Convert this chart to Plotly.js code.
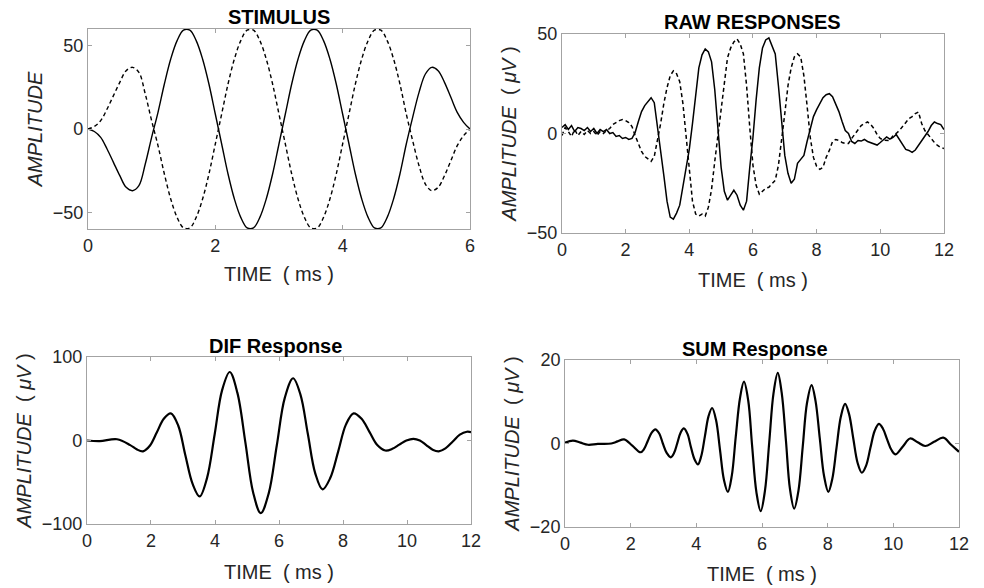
<!DOCTYPE html>
<html>
<head>
<meta charset="utf-8">
<script src="https://cdn.plot.ly/plotly-3.0.1.min.js"></script>
<style>
html,body{margin:0;padding:0;background:#fff;}
#chart{width:984px;height:588px;}
</style>
</head>
<body>
<div id="chart"></div>
<script>
// ---------- DATA ----------
const stimTime = [0,0.1,0.2,0.3,0.4,0.5,0.6,0.7,0.8,0.9,1.0,1.1,1.2,1.3,1.4,1.5,1.6,1.7,1.8,1.9,2.0,2.1,2.2,2.3,2.4,2.5,2.6,2.7,2.8,2.9,3.0,3.1,3.2,3.3,3.4,3.5,3.6,3.7,3.8,3.9,4.0,4.1,4.2,4.3,4.4,4.5,4.6,4.7,4.8,4.9,5.0,5.1,5.2,5.3,5.4,5.5,5.6,5.7,5.8,5.9,6.0];
const stimSolid = [0,-1.5,-5,-12,-20,-28,-35,-37,-34,-21,-5,10,27,42,53,59.3,59.3,53,42,27,9,-9,-27,-42,-53,-59.3,-59.3,-53,-42,-27,-9,9,27,42,53,59.3,59.3,53,42,27,9,-9,-27,-42,-53,-59.3,-59.3,-53,-42,-27,-9,7,22,33,37,35,28,19,10,4,0];
const stimDashed = [0,1.5,5,12,20,28,35,37,34,21,5,-10,-27,-42,-53,-59.3,-59.3,-53,-42,-27,-9,9,27,42,53,59.3,59.3,53,42,27,9,-9,-27,-42,-53,-59.3,-59.3,-53,-42,-27,-9,9,27,42,53,59.3,59.3,53,42,27,9,-7,-22,-33,-37,-35,-28,-19,-10,-4,0];

const rawTime = [0,0.1,0.2,0.3,0.4,0.5,0.6,0.7,0.8,0.9,1.0,1.1,1.2,1.3,1.4,1.5,1.6,1.7,1.8,1.9,2.0,2.1,2.2,2.3,2.4,2.5,2.6,2.7,2.8,2.9,3.0,3.1,3.2,3.3,3.4,3.5,3.6,3.7,3.8,3.9,4.0,4.1,4.2,4.3,4.4,4.5,4.6,4.7,4.8,4.9,5.0,5.1,5.2,5.3,5.4,5.5,5.6,5.7,5.8,5.9,6.0,6.1,6.2,6.3,6.4,6.5,6.6,6.7,6.8,6.9,7.0,7.1,7.2,7.3,7.4,7.5,7.6,7.7,7.8,7.9,8.0,8.1,8.2,8.3,8.4,8.5,8.6,8.7,8.8,8.9,9.0,9.1,9.2,9.3,9.4,9.5,9.6,9.7,9.8,9.9,10.0,10.1,10.2,10.3,10.4,10.5,10.6,10.7,10.8,10.9,11.0,11.1,11.2,11.3,11.4,11.5,11.6,11.7,11.8,11.9,12.0];
const rawSolid = [3,4.5,2,4,1,3,2.5,1.5,3,1,2.5,0,2,1,2,0,0.5,-1.5,-1,-2.5,-2,-3,-2.5,0.5,6,11,14,16,18,15.5,4,-8,-21,-34,-42,-43,-40,-36,-27,-18,-8,5,20,33,39.5,42.5,41,36,22,3,-17,-29,-33.5,-31,-28.5,-31,-36,-38.5,-34,-17,-2,17,33,43,47,48,44,40,24,5,-11,-20,-25,-23,-15,-13,-11,-4,3,8.5,12,15,18,19.5,20,18.5,15,11,6,1.5,0,-4,-5,-3.5,-3.8,-3,-4,-4.5,-5,-5.8,-4.5,-3.3,-1.7,-2.8,-2,-0.5,-3,-6,-8,-8.5,-9.5,-8.3,-6,-3.5,-1.5,1,4,5.8,5,4.5,2];
const rawDashed = [-1,3,1,-1.5,2,-1,1,-0.5,1.5,0,1,-1,1,0,1.5,2.5,4.5,5.5,6.5,7,6.5,5.5,3.5,-1,-5,-9,-11.5,-13,-14,-11.5,-4,5,15,23,29,31.5,30,26,15,-2,-21,-34,-40.5,-41.5,-40.5,-41.5,-37,-28,-14,-1,14,28,38,43,46,47.5,45,40,24,3,-16,-26,-30.5,-29,-27.5,-27,-25.5,-23.5,-16,-4,10,24,33,38.5,40,38.5,29,14,-2,-12,-16.5,-18,-17,-12,-8.5,-4,-3,-3.5,-4.5,-5,-5,-2.5,-0.5,1.5,4,5,5.8,4.5,2.5,-0.5,-2.5,-3.3,-3.5,-3.5,-1,0,1.5,3.5,5.5,7.5,8.5,10,10.8,5,1.5,-0.5,-3,-4.5,-6,-7,-7.5];

const difTime = [0,0.4,0.94,1.35,1.55,1.75,1.97,2.18,2.4,2.62,2.85,3.07,3.3,3.52,3.75,3.99,4.22,4.46,4.7,4.95,5.19,5.43,5.68,5.93,6.18,6.44,6.67,6.9,7.13,7.36,7.6,7.85,8.09,8.33,8.58,8.83,9.07,9.32,9.54,9.76,9.98,10.2,10.4,10.6,10.8,10.99,11.2,11.43,11.65,11.87,12];
const difValue = [0,-0.8,1.5,-5.5,-10.5,-13,-6,9.5,26,32.5,18,-17,-52,-67,-45,7.5,60,82,57,-2.5,-62,-87,-63,-6,51,74.5,55,8,-39,-58.5,-45,-13,19,32.5,26,10,-5.5,-12,-10,-5,0,2,0,-5.5,-11,-13,-9.5,-1.2,7,10.5,10];

const sumTime = [0,0.24,0.47,0.7,1.0,1.41,1.6,1.8,2.05,2.3,2.41,2.52,2.64,2.75,2.87,2.98,3.1,3.22,3.32,3.42,3.52,3.62,3.73,3.83,3.94,4.05,4.15,4.26,4.37,4.48,4.6,4.72,4.84,4.96,5.08,5.2,5.33,5.45,5.58,5.7,5.83,5.96,6.09,6.22,6.35,6.48,6.6,6.73,6.85,6.98,7.11,7.24,7.37,7.51,7.63,7.76,7.89,8.02,8.14,8.27,8.4,8.53,8.65,8.78,8.91,9.04,9.17,9.3,9.43,9.56,9.68,9.81,9.94,10.07,10.29,10.51,10.74,10.97,11.24,11.52,11.76,12.0];
const sumValue = [0.2,0.7,0.2,-0.3,-0.1,0,0.5,1.0,-0.5,-2.1,-1.3,0.6,2.6,3.4,2.4,0,-2.3,-3.3,-2.3,0.1,2.6,3.6,2.3,-0.7,-3.7,-5.0,-3.0,1.7,6.5,8.5,5.6,-1.5,-8.7,-11.6,-7.7,1.6,10.9,14.8,10.3,-0.7,-11.7,-16.2,-11.3,0.3,12,16.9,12.1,0.6,-10.8,-15.6,-11.3,-0.8,9.7,14,10.2,1.2,-7.8,-11.6,-8.5,-1,6.4,9.5,7.1,1.2,-4.6,-7,-5.3,-1.1,3,4.7,3.6,1,-1.5,-2.6,-0.7,1.2,0.3,-0.6,0.4,1.4,-0.3,-2.0];

const titles = ["STIMULUS","RAW RESPONSES","DIF Response","SUM Response"];
const xTitle = "TIME\u00A0\u00A0( ms )";
const yTitles = ["<i>AMPLITUDE</i>","<i>AMPLITUDE</i>\u00A0\u00A0( <i>μV</i> )","<i>AMPLITUDE</i>\u00A0\u00A0( <i>μV</i> )","<i>AMPLITUDE</i>\u00A0\u00A0( <i>μV</i> )"];
const yTicks = [[-50,0,50],[-50,0,50],[-100,0,100],[-20,0,20]];
const yRanges = [[-60,60],[-50,50],[-100,100],[-20,20]];
const xRanges = [[0,6],[0,12],[0,12],[0,12]];

// ---------- PLOT ----------
const FONT = "Liberation Sans, Arial, Helvetica, sans-serif";
const solidLine = {color:'#000', width:1.4, shape:'spline', smoothing:1};
const dashLine = {color:'#000', width:1.4, dash:'4px,3px', shape:'spline', smoothing:1};
const thick = {color:'#000', width:2.2, shape:'spline', smoothing:1};

const traces = [
  {x:stimTime, y:stimSolid, xaxis:'x', yaxis:'y', mode:'lines', line:solidLine},
  {x:stimTime, y:stimDashed, xaxis:'x', yaxis:'y', mode:'lines', line:dashLine},
  {x:rawTime, y:rawSolid, xaxis:'x2', yaxis:'y2', mode:'lines', line:{color:'#000', width:1.5}},
  {x:rawTime, y:rawDashed, xaxis:'x2', yaxis:'y2', mode:'lines', line:{color:'#000', width:1.5, dash:'4px,3px'}},
  {x:difTime, y:difValue, xaxis:'x3', yaxis:'y3', mode:'lines', line:thick},
  {x:sumTime, y:sumValue, xaxis:'x4', yaxis:'y4', mode:'lines', line:thick}
];

const xDomains = [[0.0894,0.4776],[0.5711,0.9593],[0.0884,0.4787],[0.5742,0.9746]];
const yDomains = [[0.6105,0.9507],[0.6037,0.9422],[0.1088,0.3929],[0.1037,0.3878]];

function axisBase(){
  return {showline:true, linecolor:'#a3a3a3', linewidth:1, mirror:'ticks',
    ticks:'inside', ticklen:4, tickcolor:'#a3a3a3', tickwidth:1,
    showgrid:false, zeroline:false, automargin:false, fixedrange:true,
    tickfont:{family:FONT, size:18, color:'#262626'}};
}

const layout = {
  width:984, height:588, margin:{l:0,r:0,t:0,b:0},
  paper_bgcolor:'#fff', plot_bgcolor:'#fff', showlegend:false,
  font:{family:FONT, color:'#262626'},
  annotations:[]
};
const titlePos = [[0.2835,0.9711],[0.7647,0.9634],[0.2795,0.4116],[0.7673,0.4073]];
const xStandoff = [12,14,15,14];
for(let i=0;i<4;i++){
  const s = i===0?'':String(i+1);
  const xa = axisBase(); const ya = axisBase();
  xa.domain = xDomains[i]; ya.domain = yDomains[i];
  xa.anchor = 'y'+s; ya.anchor = 'x'+s;
  xa.range = xRanges[i]; xa.dtick = 2; xa.tick0 = 0;
  ya.range = yRanges[i]; ya.tickvals = yTicks[i];
  xa.title = {text:xTitle, font:{family:FONT, size:20, color:'#262626'}, standoff:xStandoff[i]};
  ya.title = {text:yTitles[i], font:{family:FONT, size:20, color:'#262626'}, standoff:4};
  layout['xaxis'+s] = xa; layout['yaxis'+s] = ya;
  layout.annotations.push({text:'<b>'+titles[i]+'</b>', xref:'paper', yref:'paper',
    x:titlePos[i][0], y:titlePos[i][1], xanchor:'center', yanchor:'middle', showarrow:false,
    font:{family:FONT, size:20, color:'#000'}});
}

Plotly.newPlot('chart', traces, layout, {staticPlot:true});
</script>
</body>
</html>
